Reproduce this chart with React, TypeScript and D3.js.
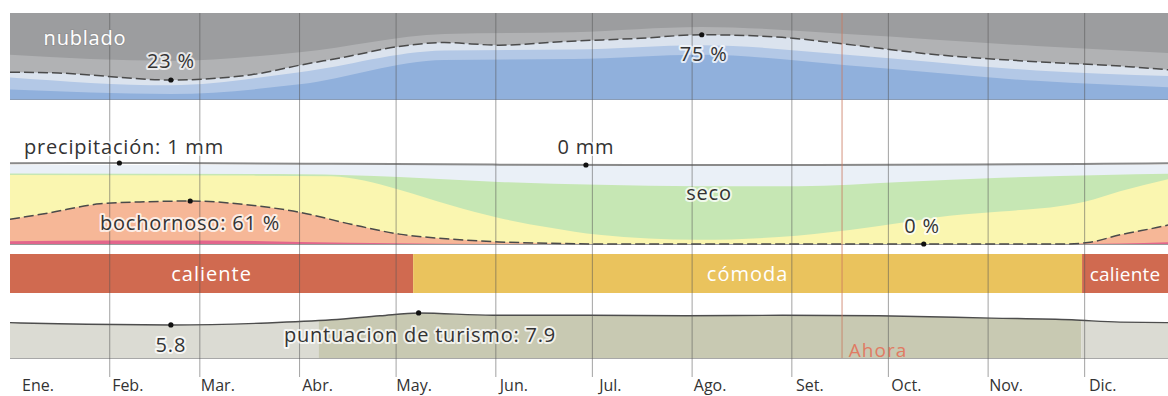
import React from "react";
import * as d3 from "d3";

const W = 1168;
const H = 396;

const monthLabels = ["Ene.", "Feb.", "Mar.", "Abr.", "May.", "Jun.", "Jul.", "Ago.", "Set.", "Oct.", "Nov.", "Dic."];
const monthStartDays = [0, 31, 59, 90, 120, 151, 181, 212, 243, 273, 304, 334];

// cloud cover (%)
const cloudDays = [0, 15, 50, 75, 90, 105, 120, 135, 152, 171, 196, 215, 240, 260, 288, 319, 349, 365];
const cloudyPct = [32, 31, 23, 29, 40, 50, 61, 66, 63, 67, 71, 75, 72, 64, 52, 44, 38, 33];
const cloudLayerDays = [0, 50, 90, 135, 175, 215, 260, 319, 365];
const mostlyCloudyTop = [52, 45, 55, 76, 78, 84, 76, 62, 53];
const mostlyClearTop = [26, 17, 32, 57, 58, 63, 52, 34, 27];
const clearTop = [12, 7, 18, 46, 47, 52, 40, 22, 14];

// precipitation (mm)
const precipDays = [0, 45, 100, 150, 196, 250, 300, 340, 365];
const precipMm = [0.9, 1, 0.6, 0.2, 0, 0, 0.2, 0.6, 0.9];

// humidity comfort (cumulative %)
const comfortDays = [0, 90, 121, 152, 183, 214, 245, 277, 308, 340, 365];
const comfortTop = [100, 99, 95, 88, 84, 82, 82, 88, 94, 98, 100];
const humidDays = [0, 75, 100, 110, 121, 137, 152, 168, 183, 214, 239, 261, 277, 292, 308, 334, 345, 360, 365];
const humidTop = [98, 97, 96, 90, 77, 55, 37, 23, 13, 6, 10, 20, 30, 40, 46, 60, 75, 92, 97];
const muggyDays = [0, 12, 28, 43, 56, 75, 90, 106, 121, 137, 152, 168, 185, 328, 335, 345, 360, 365];
const muggyPct = [35, 44, 57, 60, 61, 55, 45, 28, 14, 7, 3, 1, 0, 0, 2, 13, 27, 33];
const oppressiveDays = [0, 30, 60, 90, 120, 150, 330, 365];
const oppressiveTop = [4, 5, 5, 3, 1, 0, 0, 3];

// temperature bands
const tempStart = [0, 125.3, 333.2];
const tempEnd = [125.3, 333.2, 365];
const tempLabel = ["caliente", "cómoda", "caliente"];
const tempKind = ["hot", "comfortable", "hot"];

// tourism score
const tourDays = [0, 15, 50, 80, 100, 115, 127, 150, 180, 210, 240, 270, 305, 330, 345, 365];
const tourScore = [6.2, 6.0, 5.8, 6.15, 6.7, 7.4, 7.9, 7.5, 7.5, 7.4, 7.5, 7.4, 7.0, 6.7, 6.3, 6.2];
const tourBandStart = [0, 96, 333];
const tourBandEnd = [96, 333, 365];
const tourBandLevel = ["low", "high", "low"];

const nowDay = 258.6;

const FONT = "'Open Sans', 'Noto Sans', sans-serif";

const zip = (days: number[], vals: number[]) => days.map((d, i) => [d, vals[i]] as [number, number]);

export default function App() {
  const x = d3.scaleLinear().domain([0, 365]).range([10, 10 + 365 * 3.2175]);
  const yCloud = d3.scaleLinear().domain([0, 100]).range([100, 13]);
  const yPrecip = d3.scaleLinear().domain([0, 10]).range([165, 145]);
  const yHum = d3.scaleLinear().domain([0, 100]).range([244, 173.5]);
  const yTour = d3.scaleLinear().domain([0, 10]).range([358, 301]);

  const areaFn = (y: d3.ScaleLinear<number, number>, base: number) =>
    d3
      .area<[number, number]>()
      .x((d) => x(d[0]))
      .y0(base)
      .y1((d) => y(d[1]))
      .curve(d3.curveMonotoneX);
  const lineFn = (y: d3.ScaleLinear<number, number>) =>
    d3
      .line<[number, number]>()
      .x((d) => x(d[0]))
      .y((d) => y(d[1]))
      .curve(d3.curveMonotoneX);

  const cArea = areaFn(yCloud, 100);
  const hArea = areaFn(yHum, 244);
  const tArea = areaFn(yTour, 358);

  const halo = {
    stroke: "rgba(255,255,255,0.75)",
    strokeWidth: 4,
    paintOrder: "stroke" as const,
    strokeLinejoin: "round" as const,
  };

  const label = (txt: string, cx: number, cy: number, extra: any = {}) => (
    <text
      x={cx}
      y={cy}
      textAnchor="middle"
      dominantBaseline="central"
      fontSize={20}
      letterSpacing={0.8}
      fontFamily={FONT}
      fill="#333"
      {...halo}
      {...extra}
    >
      {txt}
    </text>
  );

  const dot = (d: number, yv: number) => <circle cx={x(d)} cy={yv} r={2.6} fill="#111" />;

  return (
    <div style={{ position: "absolute", left: 0, top: 0 }}>
      <svg width={W} height={H} style={{ display: "block", background: "#fff" }}>
        <defs>
          <clipPath id="plot">
            <rect x={10} y={0} width={W - 10} height={H} />
          </clipPath>
        </defs>
        <g clipPath="url(#plot)">
          {/* cloud band */}
          <rect x={x(0)} y={13} width={x(365) - x(0)} height={87} fill="#9c9d9f" />
          <path d={cArea(zip(cloudLayerDays, mostlyCloudyTop)) || ""} fill="#b1b2b4" />
          <path d={cArea(zip(cloudDays, cloudyPct)) || ""} fill="#dbe3ee" />
          <path d={cArea(zip(cloudLayerDays, mostlyClearTop)) || ""} fill="#b3c8e6" />
          <path d={cArea(zip(cloudLayerDays, clearTop)) || ""} fill="#90b0dc" />
          <line x1={x(0)} x2={x(365)} y1={99.5} y2={99.5} stroke="#8a9cb5" strokeWidth={1} />
          <path
            d={lineFn(yCloud)(zip(cloudDays, cloudyPct)) || ""}
            fill="none"
            stroke="#4a4a4a"
            strokeWidth={1.5}
            strokeDasharray="10,4"
          />

          {/* humidity band */}
          <rect x={x(0)} y={165} width={x(365) - x(0)} height={79} fill="#eaf0f7" />
          <path d={hArea(zip(comfortDays, comfortTop)) || ""} fill="#c6e7b4" />
          <path d={hArea(zip(humidDays, humidTop)) || ""} fill="#faf6b0" />
          <path d={hArea(zip(muggyDays, muggyPct)) || ""} fill="#f6b797" />
          <path d={hArea(zip(oppressiveDays, oppressiveTop)) || ""} fill="#e2668c" />
          <line x1={x(0)} x2={x(365)} y1={244.5} y2={244.5} stroke="#9a9a9a" strokeWidth={1} />
          <path
            d={lineFn(yHum)(zip(muggyDays, muggyPct)) || ""}
            fill="none"
            stroke="#4a4a4a"
            strokeWidth={1.5}
            strokeDasharray="10,4"
          />

          {/* precipitation line */}
          <path d={lineFn(yPrecip)(zip(precipDays, precipMm)) || ""} fill="none" stroke="#8a8a8a" strokeWidth={2} />

          {/* temperature bands */}
          {tempStart.map((s, i) => (
            <rect
              key={"t" + i}
              x={x(s)}
              y={254}
              width={x(tempEnd[i]) - x(s)}
              height={39}
              fill={tempKind[i] === "hot" ? "#d06a50" : "#eac35d"}
            />
          ))}

          {/* tourism */}
          {tourBandStart.map((s, i) => (
            <g key={"tb" + i}>
              <clipPath id={"tc" + i}>
                <rect x={x(s)} y={290} width={x(tourBandEnd[i]) - x(s)} height={80} />
              </clipPath>
              <path
                d={tArea(zip(tourDays, tourScore)) || ""}
                fill={tourBandLevel[i] === "high" ? "#c8c9b2" : "#dbdbd3"}
                clipPath={`url(#tc${i})`}
              />
            </g>
          ))}
          <path d={lineFn(yTour)(zip(tourDays, tourScore)) || ""} fill="none" stroke="#4d4d4d" strokeWidth={1.4} />
          <line x1={x(0)} x2={x(365)} y1={358.5} y2={358.5} stroke="#a8a8a8" strokeWidth={1} />

          {/* month gridlines */}
          {monthStartDays.slice(1).map((d) => (
            <line key={"g" + d} x1={x(d)} x2={x(d)} y1={13} y2={377} stroke="#555" strokeOpacity={0.55} strokeWidth={1} />
          ))}
          <line x1={x(nowDay)} x2={x(nowDay)} y1={13} y2={358} stroke="#c9785f" strokeOpacity={0.8} strokeWidth={1} />
        </g>

        {/* temperature labels */}
        {tempStart.map((s, i) => {
          const x1 = x(tempEnd[i]);
          const clipped = x1 > W;
          const cx = clipped ? x(s) + 43 : (x(s) + x1) / 2;
          return (
            <text key={"tl" + i} x={cx} y={273.5} textAnchor="middle" dominantBaseline="central" fontSize={clipped ? 19 : 20} letterSpacing={clipped ? 0.2 : 1} fontFamily={FONT} fill="#fff">
              {tempLabel[i]}
            </text>
          );
        })}

        {/* labels */}
        <text x={85} y={37} textAnchor="middle" dominantBaseline="central" fontSize={20} letterSpacing={0.8} fontFamily={FONT} fill="#fff" stroke="rgba(140,140,140,0.5)" strokeWidth={2} style={{ paintOrder: "stroke" }}>
          nublado
        </text>
        {label("23 %", x(50), 60)}
        {dot(50, yCloud(23))}
        {label("75 %", x(215) + 2, 53)}
        {dot(215, yCloud(75))}

        {label("precipitación: 1 mm", 124, 146)}
        {dot(34, yPrecip(1))}
        {label("0 mm", x(179), 146)}
        {dot(179, yPrecip(0))}

        {label("seco", 709, 192)}
        {label("bochornoso: 61 %", 190, 222)}
        {dot(56, yHum(61))}
        {label("0 %", 922, 225)}
        {dot(284, yHum(0))}

        {label("5.8", x(50), 344)}
        {dot(50, yTour(5.8))}
        {label("puntuacion de turismo: 7.9", 420, 334)}
        {dot(127, yTour(7.9))}
        <text x={878} y={350} textAnchor="middle" dominantBaseline="central" fontSize={19} letterSpacing={1} fontFamily={FONT} fill="#e07b63">
          Ahora
        </text>

        {monthLabels.map((m, i) => (
          <text key={m} x={x(monthStartDays[i]) + (i === 0 ? 28 : 18)} y={385} textAnchor="middle" dominantBaseline="central" fontSize={16} fontFamily={FONT} fill="#333">
            {m}
          </text>
        ))}
      </svg>
    </div>
  );
}
